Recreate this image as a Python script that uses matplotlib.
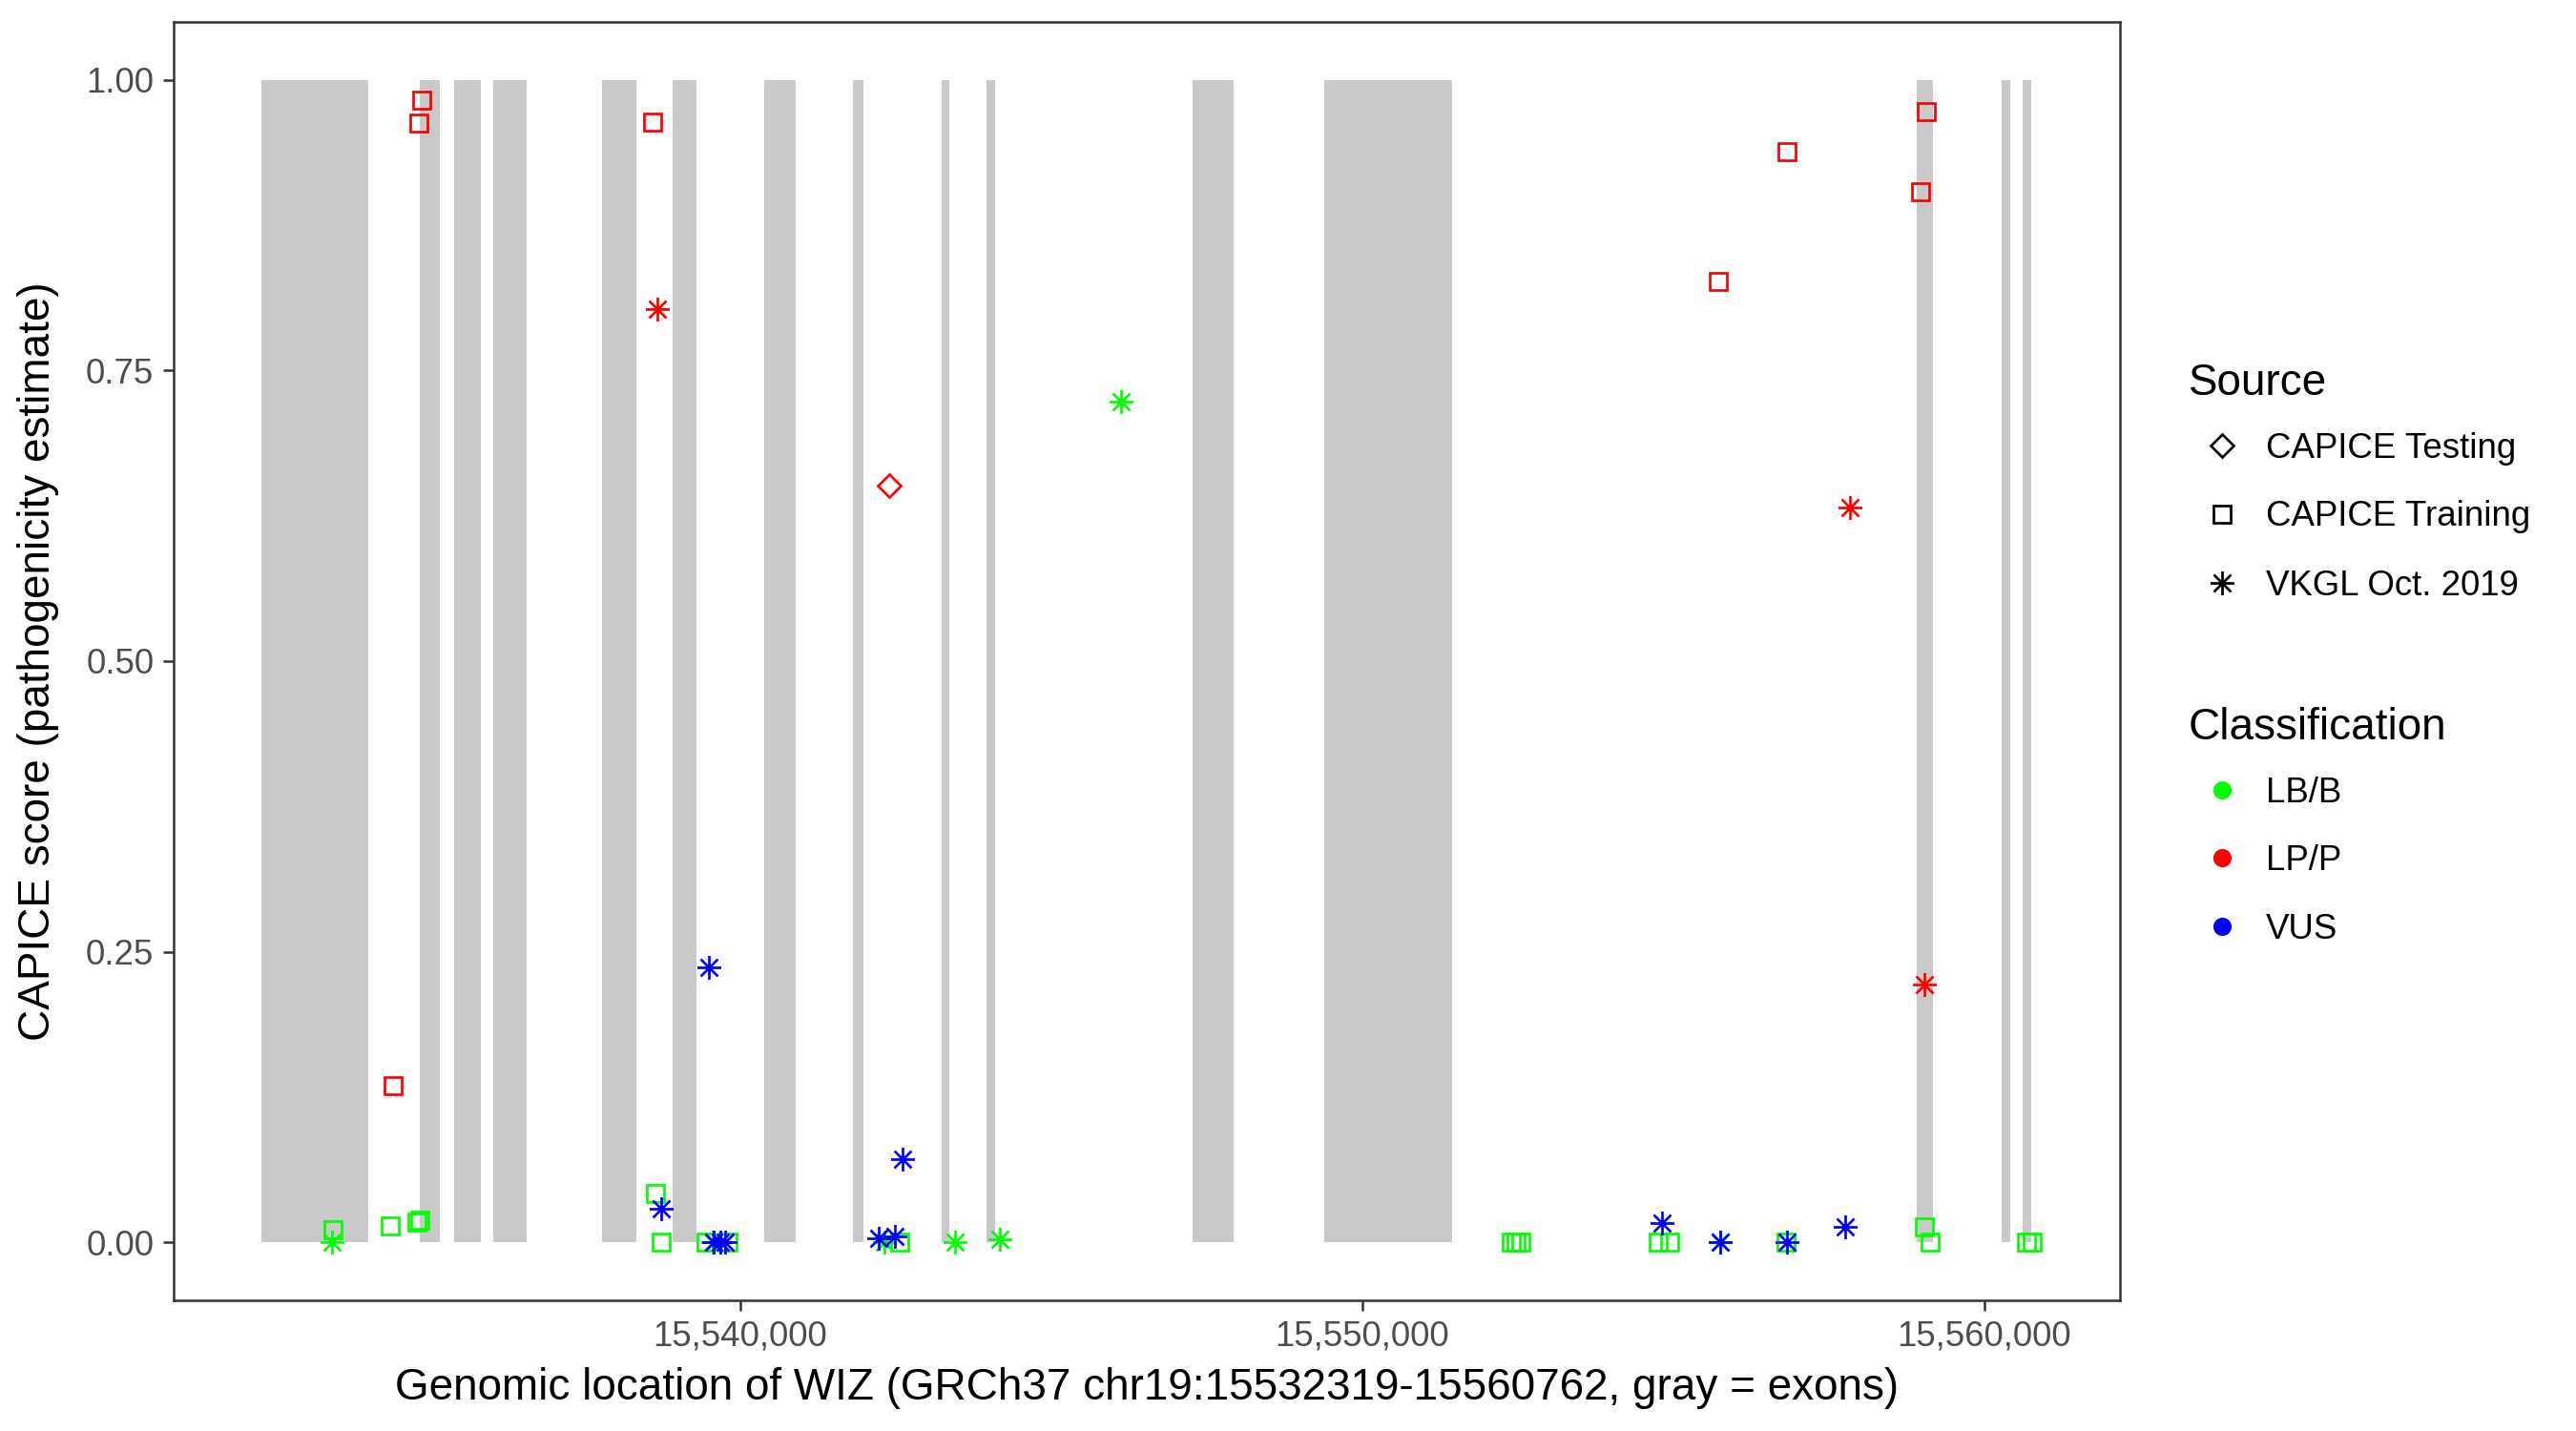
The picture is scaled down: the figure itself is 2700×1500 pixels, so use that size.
import numpy as np
import matplotlib
matplotlib.use("Agg")
import matplotlib.pyplot as plt
from matplotlib.path import Path
from matplotlib.ticker import FuncFormatter

plt.rcParams['font.family'] = ['Liberation Sans', 'DejaVu Sans']

# gene and exons of WIZ (GRCh37 chr19)
gene_start = 15532319
gene_end = 15560762
exon_start = [15532310, 15534857, 15535405, 15536035, 15537780, 15538917, 15540389,
              15541820, 15543243, 15543963, 15547277, 15549393, 15558916, 15560286,
              15560622]
exon_end = [15534029, 15535179, 15535836, 15536569, 15538335, 15539300, 15540895,
            15541984, 15543366, 15544101, 15547935, 15551447, 15559177, 15560422,
            15560762]

# variants: position, CAPICE score, source, classification
pos = [15534889, 15534836, 15538599, 15534432, 15559077, 15556832, 15558976, 15555728,
       15533460, 15534377, 15534808, 15534854, 15538644, 15538733, 15539455, 15539808,
       15542573, 15552399, 15552476, 15552553, 15554768, 15554945, 15556817, 15559033,
       15559135, 15560677, 15560766,
       15542401,
       15538677, 15557841, 15559033,
       15533440, 15546127, 15539562, 15542318, 15543463, 15544176, 15555758,
       15539499, 15538739, 15539578, 15539685, 15539762, 15542607, 15542237, 15542496,
       15554829, 15555759, 15556829, 15557760]
score = [0.983, 0.963, 0.964, 0.135, 0.973, 0.938, 0.904, 0.827,
         0.011, 0.014, 0.0175, 0.019, 0.042, 0.0, 0.0, 0.0,
         0.0, 0.0, 0.0, 0.0, 0.0, 0.0, 0.0, 0.013,
         0.0, 0.0, 0.0,
         0.651,
         0.803, 0.632, 0.222,
         0.0, 0.723, 0.0, 0.0, 0.0, 0.0025, 0.0,
         0.2365, 0.0285, 0.0, 0.0, 0.0, 0.0714, 0.003, 0.0047,
         0.0164, 0.0, 0.0, 0.013]
source = (["CAPICE Training"] * 27 + ["CAPICE Testing"] +
          ["VKGL Oct. 2019"] * 22)
classification = (["LP/P"] * 8 + ["LB/B"] * 19 + ["LP/P"] +
                  ["LP/P"] * 3 + ["LB/B"] * 7 + ["VUS"] * 12)

source_names = ["CAPICE Testing", "CAPICE Training", "VKGL Oct. 2019"]
class_names = ["LB/B", "LP/P", "VUS"]
class_colors = {"LB/B": "#00FF00", "LP/P": "#FF0000", "VUS": "#0000FF"}

# asterisk marker like R's pch 8 (plus + times)
d = 0.72
asterisk = Path([(0, -1), (0, 1), (-1, 0), (1, 0), (-d, -d), (d, d), (-d, d), (d, -d)],
                [Path.MOVETO, Path.LINETO] * 4)
source_markers = {"CAPICE Testing": ("D", 4.0), "CAPICE Training": ("s", 4.1),
                  "VKGL Oct. 2019": (asterisk, 6.0)}

pos = np.array(pos)
score = np.array(score)
source = np.array(source)
classification = np.array(classification)

fig = plt.figure(figsize=(9, 5), dpi=300)
ax = fig.add_axes([182 / 2700, 1 - 1363 / 1500, 2040 / 2700, 1340 / 1500])

# exons as gray bars
for s, e in zip(exon_start, exon_end):
    ax.axvspan(s, e, ymin=0.05 / 1.1, ymax=1.05 / 1.1, color="#C9C9C9", lw=0, zorder=1)

for cl in ["LB/B", "LP/P", "VUS"]:
    for src in source_names:
        m = (classification == cl) & (source == src)
        if not m.any():
            continue
        mk, ms = source_markers[src]
        ax.plot(pos[m], score[m], linestyle="none", marker=mk, markersize=ms,
                markerfacecolor="none", markeredgecolor=class_colors[cl],
                markeredgewidth=0.65, zorder=3)

rng = gene_end - gene_start
ax.set_xlim(gene_start - 0.05 * rng, gene_end + 0.05 * rng)
ax.set_ylim(-0.05, 1.05)
ax.set_xticks([15540000, 15550000, 15560000])
ax.xaxis.set_major_formatter(FuncFormatter(lambda v, p: f"{int(v):,}"))
ax.set_yticks([0, 0.25, 0.5, 0.75, 1.0])
ax.set_yticklabels(["0.00", "0.25", "0.50", "0.75", "1.00"])
ax.tick_params(axis="both", length=2.75, width=0.6, color="#333333",
               labelsize=8.8, labelcolor="#4D4D4D", pad=2.2)
for sp in ax.spines.values():
    sp.set_color("#333333")
    sp.set_linewidth(0.6)

ax.set_xlabel("Genomic location of WIZ (GRCh37 chr19:15532319-15560762, gray = exons)",
              fontsize=11)
ax.set_ylabel("CAPICE score (pathogenicity estimate)", fontsize=11)
ax.xaxis.label.set_va("center")
ax.yaxis.label.set_va("center")
ax.xaxis.set_label_coords(0.5, (1363 - 1455) / 1340)
ax.yaxis.set_label_coords((40 - 182) / 2040, 0.5)

# legends, drawn by hand in figure coordinates
def fx(px):
    return px / 2700

def fy(py):
    return 1 - py / 1500

fig.text(fx(2294), fy(402), "Source", fontsize=11, va="center", ha="left")
for yy, src in zip([467, 539, 611], source_names):
    mk, ms = source_markers[src]
    ax.plot([fx(2329)], [fy(yy)], transform=fig.transFigure, clip_on=False,
            linestyle="none", marker=mk, markersize=ms, markerfacecolor="none",
            markeredgecolor="black", markeredgewidth=0.65)
    fig.text(fx(2375), fy(yy + 3), src, fontsize=8.8, va="center", ha="left")

fig.text(fx(2294), fy(763), "Classification", fontsize=11, va="center", ha="left")
for yy, cl in zip([828, 899, 971], class_names):
    ax.plot([fx(2329)], [fy(yy)], transform=fig.transFigure, clip_on=False,
            linestyle="none", marker="o", markersize=4.6,
            markerfacecolor=class_colors[cl], markeredgecolor="none")
    fig.text(fx(2375), fy(yy + 3), cl, fontsize=8.8, va="center", ha="left")

fig.savefig("out.png", dpi=300, facecolor="white")
